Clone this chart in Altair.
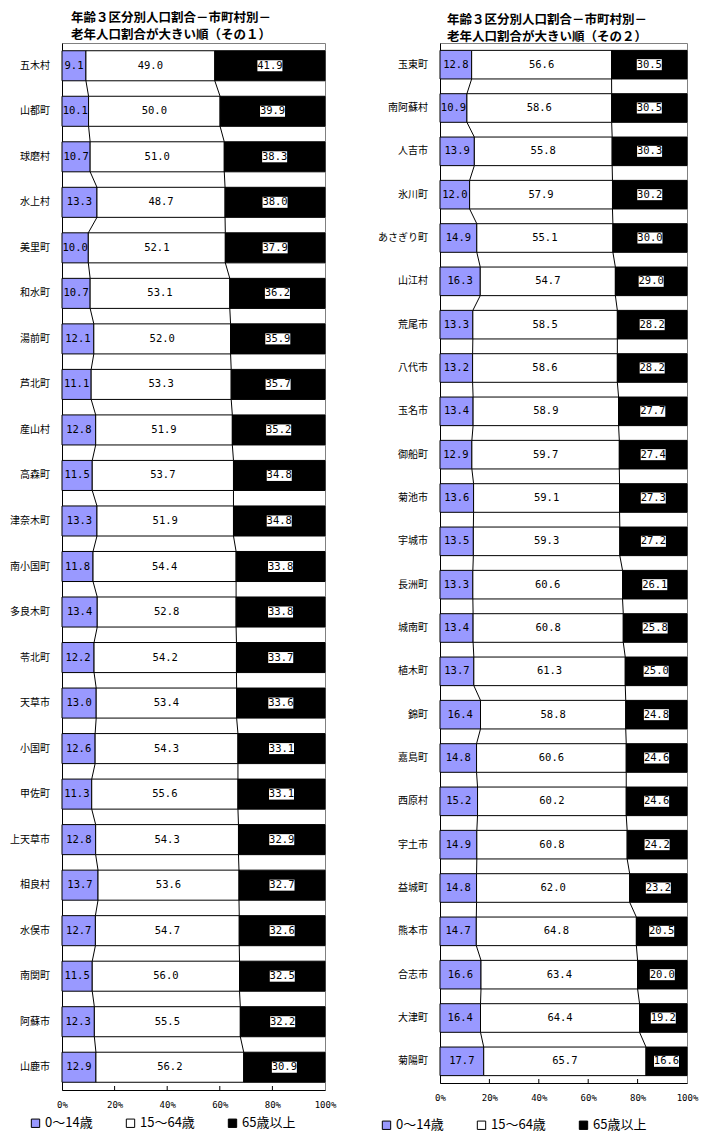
import altair as alt
import pandas as pd

CATS = ["0～14歳", "15～64歳", "65歳以上"]
COLORS = ["#9999FF", "#FFFFFF", "#000000"]
X_TICKS = [0, 20, 40, 60, 80, 100]
INNER_TICKS = [20, 40, 60, 80]

title1 = ["年齢３区分別人口割合－市町村別－", "老年人口割合が大きい順（その１）"]
title2 = ["年齢３区分別人口割合－市町村別－", "老年人口割合が大きい順（その２）"]

names1 = ["五木村", "山都町", "球磨村", "水上村", "美里町", "和水町", "湯前町", "芦北町",
          "産山村", "高森町", "津奈木町", "南小国町", "多良木町", "苓北町", "天草市", "小国町",
          "甲佐町", "上天草市", "相良村", "水俣市", "南関町", "阿蘇市", "山鹿市"]
young1 = [9.1, 10.1, 10.7, 13.3, 10.0, 10.7, 12.1, 11.1, 12.8, 11.5, 13.3, 11.8,
          13.4, 12.2, 13.0, 12.6, 11.3, 12.8, 13.7, 12.7, 11.5, 12.3, 12.9]
work1 = [49.0, 50.0, 51.0, 48.7, 52.1, 53.1, 52.0, 53.3, 51.9, 53.7, 51.9, 54.4,
         52.8, 54.2, 53.4, 54.3, 55.6, 54.3, 53.6, 54.7, 56.0, 55.5, 56.2]
old1 = [41.9, 39.9, 38.3, 38.0, 37.9, 36.2, 35.9, 35.7, 35.2, 34.8, 34.8, 33.8,
        33.8, 33.7, 33.6, 33.1, 33.1, 32.9, 32.7, 32.6, 32.5, 32.2, 30.9]

names2 = ["玉東町", "南阿蘇村", "人吉市", "氷川町", "あさぎり町", "山江村", "荒尾市", "八代市",
          "玉名市", "御船町", "菊池市", "宇城市", "長洲町", "城南町", "植木町", "錦町",
          "嘉島町", "西原村", "宇土市", "益城町", "熊本市", "合志市", "大津町", "菊陽町"]
young2 = [12.8, 10.9, 13.9, 12.0, 14.9, 16.3, 13.3, 13.2, 13.4, 12.9, 13.6, 13.5,
          13.3, 13.4, 13.7, 16.4, 14.8, 15.2, 14.9, 14.8, 14.7, 16.6, 16.4, 17.7]
work2 = [56.6, 58.6, 55.8, 57.9, 55.1, 54.7, 58.5, 58.6, 58.9, 59.7, 59.1, 59.3,
         60.6, 60.8, 61.3, 58.8, 60.6, 60.2, 60.8, 62.0, 64.8, 63.4, 64.4, 65.7]
old2 = [30.5, 30.5, 30.3, 30.2, 30.0, 29.0, 28.2, 28.2, 27.7, 27.4, 27.3, 27.2,
        26.1, 25.8, 25.0, 24.8, 24.6, 24.6, 24.2, 23.2, 20.5, 20.0, 19.2, 16.6]

HALF = 0.33
FONT = "Noto Sans CJK JP"
NUMFONT = "DejaVu Sans Mono"


def panel(names, young, work, old, titles, w, h, left_ext, right_ext, top_ext,
          title_cx, title_y, legend_x, legend_y):
    n = len(names)
    seg_rows, bounds = [], []
    for i, (nm, a, b, c) in enumerate(zip(names, young, work, old)):
        tot = a + b + c
        s1 = a / tot * 100
        s2 = (a + b) / tot * 100
        bounds.append((s1, s2))
        for cat, v, x0, x1 in zip(CATS, (a, b, c), (0, s1, s2), (s1, s2, 100)):
            seg_rows.append(dict(idx=i, name=nm, cat=cat, val=v, x0=x0, x1=x1,
                                 mid=(x0 + x1) / 2, y0=i - HALF, y1=i + HALF,
                                 lab=f"{v:.1f}"))
    seg = pd.DataFrame(seg_rows)
    line_rows = []
    for i in range(n - 1):
        for k in range(2):
            line_rows.append(dict(xa=bounds[i][k], xb=bounds[i + 1][k],
                                  ya=i + HALF, yb=i + 1 - HALF))
    lines = pd.DataFrame(line_rows)
    names_df = pd.DataFrame(dict(idx=list(range(n)), name=names))
    ticks_df = pd.DataFrame(dict(t=INNER_TICKS))
    one = pd.DataFrame(dict(a=[0]))

    xs = alt.Scale(domain=[0, 100], nice=False, zero=False)
    ys = alt.Scale(domain=[-0.5, n - 0.5], reverse=True, nice=False, zero=False)
    xaxis = alt.Axis(values=X_TICKS, labelExpr="datum.value + '%'", ticks=False,
                     grid=False, domainColor="black", labelFont="DejaVu Sans Mono",
                     labelFontSize=9, labelColor="black", labelPadding=10,
                     labelFlush=False, title=None)
    yaxis = alt.Axis(labels=False, ticks=False, grid=False, domainColor="black",
                     title=None)

    def X(f):
        return alt.X(f, scale=xs, axis=xaxis)

    def Y(f):
        return alt.Y(f, scale=ys, axis=yaxis)

    bars = alt.Chart(seg).mark_bar(stroke="black", strokeWidth=1).encode(
        x=X("x0:Q"), x2="x1:Q", y=Y("y0:Q"), y2="y1:Q",
        color=alt.Color("cat:N", scale=alt.Scale(domain=CATS, range=COLORS),
                        legend=alt.Legend(orient="none", legendX=legend_x,
                                          legendY=legend_y, direction="horizontal",
                                          title=None, symbolType="square",
                                          symbolSize=70, symbolStrokeColor="black",
                                          symbolStrokeWidth=1, labelFont=FONT,
                                          labelFontSize=13, labelColor="black",
                                          columnPadding=31, labelOffset=3,
                                          padding=0)),
    )
    serlines = alt.Chart(lines).mark_rule(color="black", strokeWidth=1).encode(
        x=X("xa:Q"), x2="xb:Q", y=Y("ya:Q"), y2="yb:Q")
    boxes = alt.Chart(seg).transform_filter(alt.datum.cat == "65歳以上").mark_point(
        shape="M-1,-0.44L1,-0.44L1,0.44L-1,0.44Z", filled=True, fill="white",
        size=625, opacity=1, strokeWidth=0).encode(x=X("mid:Q"), y=Y("idx:Q"))
    labels = alt.Chart(seg).mark_text(font=NUMFONT, fontSize=10.5, color="black",
                                      baseline="middle").encode(
        x=X("mid:Q"), y=Y("idx:Q"), text="lab:N")
    namet = alt.Chart(names_df).mark_text(font=FONT, fontSize=10, color="black",
                                          align="right", baseline="middle").encode(
        x=alt.value(-12), y=Y("idx:Q"), text="name:N")
    tickm = alt.Chart(ticks_df).mark_rule(color="black").encode(
        x=X("t:Q"), y=alt.value(h - 4), y2=alt.value(h))
    anchor = alt.Chart(one).mark_rule(opacity=0).encode(
        x=alt.value(-left_ext), x2=alt.value(w + right_ext), y=alt.value(-top_ext))
    t1 = alt.Chart(one).mark_text(font=FONT, fontSize=12.5, fontWeight="bold",
                                  color="black", baseline="middle").encode(
        x=alt.value(title_cx), y=alt.value(title_y), text=alt.value(titles[0]))
    t2 = alt.Chart(one).mark_text(font=FONT, fontSize=12.5, fontWeight="bold",
                                  color="black", baseline="middle").encode(
        x=alt.value(title_cx), y=alt.value(title_y + 17), text=alt.value(titles[1]))

    return alt.layer(bars, serlines, boxes, labels, namet, tickm, anchor, t1, t2
                     ).properties(width=w, height=h)


left = panel(names1, young1, work1, old1, title1, 263, 1047, 53, 13, 34,
             109, -25, -33, 1073.5)
right = panel(names2, young2, work2, old2, title2, 247, 1040, 63, 13, 32,
              107, -23, -60, 1075.5)

chart = alt.hconcat(left, right, spacing=37).resolve_scale(
    x="independent", y="independent", color="independent"
).resolve_legend(color="independent").resolve_axis(
    x="independent", y="independent"
).properties(padding=0, background="white").configure_view(
    stroke="#808080", strokeWidth=1
)

chart.save("out.html", embed_options={"renderer": "svg", "actions": False})
